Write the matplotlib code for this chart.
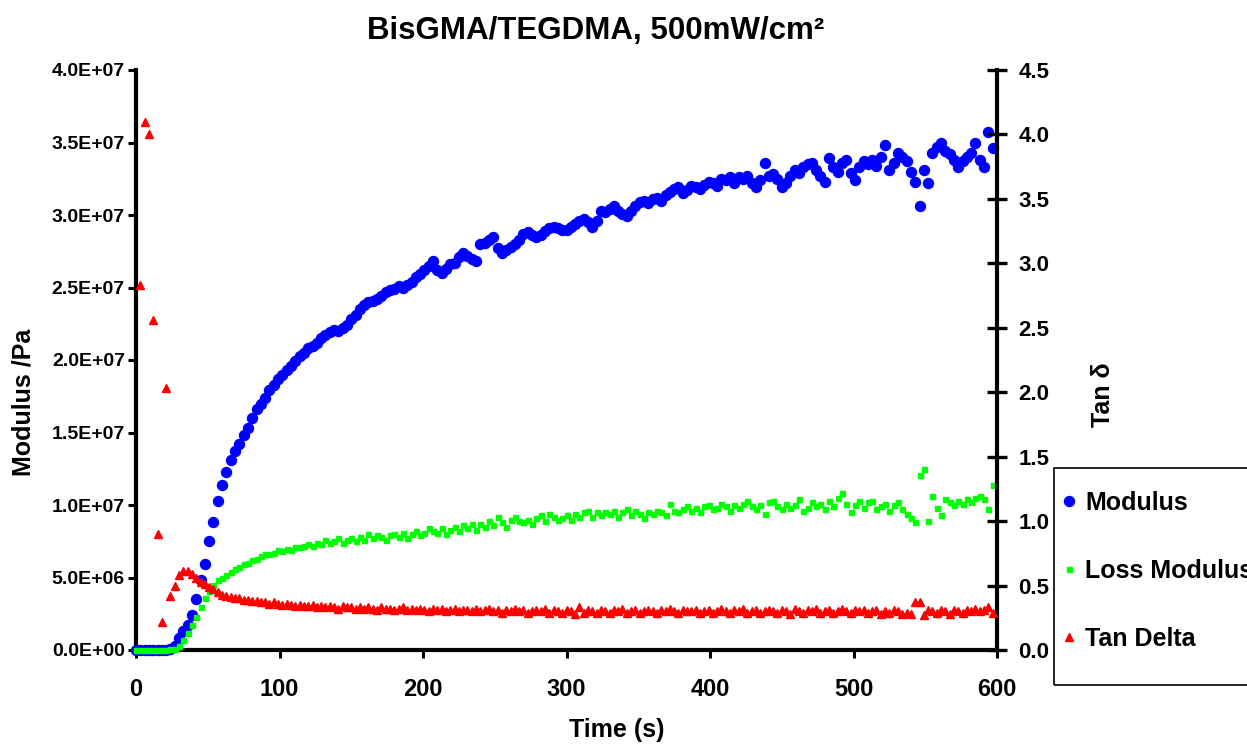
import numpy as np
import matplotlib
matplotlib.use("Agg")
import matplotlib.pyplot as plt
from matplotlib.patches import Rectangle
from matplotlib.lines import Line2D

plt.rcParams['font.family'] = ['Liberation Sans', 'DejaVu Sans']
plt.rcParams['font.weight'] = 'bold'

# ---------------- data ----------------
time_s = np.arange(0, 600, 3)

modulus_e7 = [
    0.00, 0.00, 0.00, 0.00, 0.00, 0.00, 0.00, 0.00, 0.01, 0.03,
    0.08, 0.13, 0.17, 0.24, 0.35, 0.48, 0.59, 0.75, 0.88, 1.03,
    1.14, 1.23, 1.31, 1.37, 1.42, 1.48, 1.53, 1.60, 1.66, 1.70,
    1.74, 1.79, 1.83, 1.87, 1.90, 1.93, 1.96, 1.99, 2.03, 2.05,
    2.08, 2.10, 2.12, 2.15, 2.17, 2.19, 2.21, 2.20, 2.22, 2.24,
    2.28, 2.31, 2.35, 2.38, 2.40, 2.41, 2.42, 2.44, 2.47, 2.48,
    2.49, 2.51, 2.50, 2.52, 2.54, 2.57, 2.59, 2.62, 2.65, 2.68,
    2.62, 2.60, 2.63, 2.66, 2.67, 2.71, 2.74, 2.72, 2.70, 2.68,
    2.80, 2.81, 2.83, 2.85, 2.77, 2.74, 2.76, 2.78, 2.80, 2.83,
    2.87, 2.88, 2.86, 2.85, 2.86, 2.89, 2.91, 2.92, 2.91, 2.90,
    2.90, 2.92, 2.94, 2.96, 2.97, 2.95, 2.92, 2.96, 3.03, 3.02,
    3.04, 3.06, 3.03, 3.01, 2.99, 3.03, 3.06, 3.09, 3.10, 3.08,
    3.11, 3.12, 3.10, 3.14, 3.16, 3.18, 3.19, 3.15, 3.17, 3.20,
    3.19, 3.18, 3.21, 3.23, 3.22, 3.20, 3.25, 3.24, 3.26, 3.22,
    3.26, 3.25, 3.27, 3.22, 3.19, 3.24, 3.36, 3.27, 3.28, 3.25,
    3.19, 3.22, 3.27, 3.31, 3.29, 3.33, 3.35, 3.36, 3.31, 3.27,
    3.23, 3.39, 3.33, 3.30, 3.36, 3.38, 3.29, 3.24, 3.33, 3.37,
    3.35, 3.38, 3.34, 3.40, 3.48, 3.31, 3.36, 3.43, 3.40, 3.37,
    3.30, 3.23, 3.06, 3.31, 3.22, 3.43, 3.47, 3.50, 3.44, 3.42,
    3.38, 3.33, 3.37, 3.40, 3.43, 3.50, 3.38, 3.33, 3.57, 3.46,
]

loss_modulus_e7 = [
    0.00, 0.00, 0.00, 0.00, 0.00, 0.00, 0.00, 0.00, 0.005, 0.01,
    0.03, 0.07, 0.12, 0.17, 0.23, 0.30, 0.36, 0.41, 0.45, 0.48,
    0.50, 0.52, 0.54, 0.56, 0.57, 0.59, 0.60, 0.62, 0.63, 0.65,
    0.66, 0.66, 0.67, 0.69, 0.68, 0.70, 0.69, 0.71, 0.71, 0.72,
    0.73, 0.72, 0.74, 0.73, 0.76, 0.74, 0.75, 0.77, 0.74, 0.76,
    0.77, 0.75, 0.78, 0.76, 0.80, 0.77, 0.79, 0.78, 0.76, 0.79,
    0.80, 0.78, 0.81, 0.77, 0.80, 0.82, 0.79, 0.81, 0.84, 0.82,
    0.81, 0.84, 0.80, 0.83, 0.85, 0.82, 0.86, 0.84, 0.87, 0.83,
    0.87, 0.85, 0.89, 0.86, 0.92, 0.88, 0.85, 0.90, 0.92, 0.89,
    0.88, 0.90, 0.87, 0.91, 0.93, 0.89, 0.94, 0.92, 0.90, 0.91,
    0.93, 0.90, 0.94, 0.92, 0.95, 0.96, 0.92, 0.95, 0.93, 0.95,
    0.94, 0.96, 0.92, 0.95, 0.97, 0.93, 0.96, 0.94, 0.91, 0.95,
    0.94, 0.96, 0.95, 0.93, 1.01, 0.96, 0.95, 0.97, 0.99, 0.96,
    0.98, 0.95, 0.99, 1.00, 0.97, 0.98, 1.01, 0.99, 0.96, 1.00,
    0.98, 1.01, 1.03, 0.99, 0.97, 1.00, 0.94, 1.02, 1.03, 0.99,
    0.97, 1.01, 0.98, 1.00, 1.04, 0.96, 0.98, 1.02, 0.99, 1.01,
    0.97, 1.03, 0.99, 1.05, 1.08, 1.01, 0.95, 1.00, 1.03, 0.98,
    1.02, 1.03, 0.97, 0.99, 1.01, 0.96, 1.00, 1.02, 0.97, 0.94,
    0.91, 0.88, 1.21, 1.25, 0.89, 1.06, 0.98, 0.93, 1.04, 1.02,
    1.00, 1.03, 1.01, 1.04, 1.02, 1.05, 1.06, 1.04, 0.97, 1.14,
]

tan_delta = [
    np.nan, 2.83, 4.10, 4.00, 2.56, 0.90, 0.22, 2.03, 0.42, 0.50,
    0.58, 0.61, 0.61, 0.59, 0.56, 0.53, 0.51, 0.49, 0.47, 0.45,
    0.43, 0.42, 0.41, 0.40, 0.40, 0.39, 0.39, 0.38, 0.38, 0.37,
    0.37, 0.36, 0.37, 0.36, 0.35, 0.36, 0.35, 0.34, 0.35, 0.34,
    0.34, 0.35, 0.33, 0.34, 0.33, 0.34, 0.33, 0.32, 0.34, 0.33,
    0.33, 0.32, 0.33, 0.32, 0.33, 0.32, 0.31, 0.33, 0.32, 0.32,
    0.31, 0.32, 0.33, 0.31, 0.32, 0.31, 0.32, 0.31, 0.30, 0.32,
    0.31, 0.32, 0.30, 0.31, 0.32, 0.30, 0.31, 0.31, 0.30, 0.32,
    0.30, 0.31, 0.32, 0.30, 0.31, 0.29, 0.31, 0.30, 0.32, 0.30,
    0.31, 0.29, 0.30, 0.31, 0.30, 0.32, 0.29, 0.31, 0.30, 0.29,
    0.31, 0.30, 0.28, 0.33, 0.29, 0.31, 0.30, 0.29, 0.31, 0.30,
    0.29, 0.31, 0.30, 0.32, 0.29, 0.30, 0.31, 0.29, 0.30, 0.31,
    0.30, 0.29, 0.31, 0.30, 0.32, 0.30, 0.29, 0.31, 0.30, 0.30,
    0.31, 0.29, 0.30, 0.31, 0.29, 0.30, 0.32, 0.30, 0.29, 0.31,
    0.30, 0.32, 0.29, 0.30, 0.31, 0.29, 0.30, 0.31, 0.30, 0.29,
    0.31, 0.30, 0.28, 0.32, 0.30, 0.29, 0.31, 0.30, 0.32, 0.29,
    0.30, 0.31, 0.29, 0.30, 0.32, 0.30, 0.29, 0.31, 0.30, 0.31,
    0.29, 0.30, 0.31, 0.28, 0.30, 0.29, 0.31, 0.30, 0.28, 0.29,
    0.28, 0.37, 0.37, 0.27, 0.31, 0.30, 0.29, 0.31, 0.30, 0.28,
    0.31, 0.30, 0.29, 0.31, 0.30, 0.32, 0.30, 0.31, 0.33, 0.29,
]

x_ticks = [0, 100, 200, 300, 400, 500, 600]
left_ticks = [0, 5e6, 1e7, 1.5e7, 2e7, 2.5e7, 3e7, 3.5e7, 4e7]
right_ticks = [0, 0.5, 1.0, 1.5, 2.0, 2.5, 3.0, 3.5, 4.0, 4.5]
series_names = ["Modulus", "Loss Modulus", "Tan Delta"]

# ---------------- figure ----------------
W, H = 1247, 745
fig = plt.figure(figsize=(W / 100, H / 100), dpi=100)
L, R, T, B = 136, 997, 70, 650
ax = fig.add_axes([L / W, (H - B) / H, (R - L) / W, (B - T) / H])
ax.patch.set_visible(False)

BLUE, GREEN, RED = '#0000FF', '#00FF00', '#FF0000'

mod = np.array(modulus_e7) * 1e7
loss = np.array(loss_modulus_e7) * 1e7
ax.plot(time_s, mod, ls='none', marker='o', ms=7.2, color=BLUE, mec=BLUE,
        clip_on=False, zorder=3)
ax.plot(time_s, loss, ls='none', marker='s', ms=3.6, color=GREEN, mec=GREEN,
        clip_on=False, zorder=4)

ax2 = ax.twinx()
ax2.plot(time_s, tan_delta, ls='none', marker='^', ms=6, color=RED, mec=RED,
         clip_on=False, zorder=5)

ax.set_xlim(0, 600)
ax.set_ylim(0, 4e7)
ax2.set_ylim(0, 4.5)

ax.set_xticks(x_ticks)
ax.set_xticklabels([str(v) for v in x_ticks])
ax.set_yticks(left_ticks)
ax.set_yticklabels([f"{v:.1E}" for v in left_ticks])
ax2.set_yticks(right_ticks)
ax2.set_yticklabels([f"{v:.1f}" for v in right_ticks])

for a in (ax, ax2):
    a.spines['top'].set_visible(False)
ax.spines['right'].set_visible(False)
ax2.spines['left'].set_visible(False)
ax2.spines['bottom'].set_visible(False)
for s in ('left', 'bottom'):
    ax.spines[s].set_linewidth(3)
ax2.spines['right'].set_linewidth(3)

ax.tick_params(axis='y', direction='out', length=6, width=2.2, pad=2,
               labelsize=14)
ax.tick_params(axis='x', direction='out', length=6, width=2.2, pad=14,
               labelsize=17)
ax2.tick_params(axis='y', direction='inout', length=15, width=2.4, pad=8,
                labelsize=16)
for lab in ax.get_xticklabels() + ax.get_yticklabels() + ax2.get_yticklabels():
    lab.set_fontweight('bold')

# ---------------- text ----------------
fig.text(596 / W, 1 - 31 / H, "BisGMA/TEGDMA, 500mW/cm\u00b2", ha='center',
         va='center', fontsize=22.5, fontweight='bold')
fig.text(24 / W, 1 - 402 / H, "Modulus /Pa", rotation=90, ha='center',
         va='center', fontsize=18, fontweight='bold')
fig.text(617 / W, 1 - 730 / H, "Time (s)", ha='center', va='center',
         fontsize=18, fontweight='bold')
fig.text(1103 / W, 1 - 395 / H, "Tan \u03b4", rotation=90, ha='center',
         va='center', fontsize=18, fontweight='bold')

# ---------------- legend ----------------
handles = [
    Line2D([], [], ls='none', marker='o', ms=7.2, color=BLUE, mec=BLUE),
    Line2D([], [], ls='none', marker='s', ms=3.6, color=GREEN, mec=GREEN),
    Line2D([], [], ls='none', marker='^', ms=6, color=RED, mec=RED),
]
fig.legend(handles, series_names, loc='upper left',
           bbox_to_anchor=(1061 / W, 1 - 491 / H), frameon=False,
           borderpad=0, borderaxespad=0, handlelength=0.6,
           handletextpad=0.36, labelspacing=1.75,
           prop=dict(size=18, weight='bold'))
fig.add_artist(Rectangle((1054 / W, 1 - 685 / H), 300 / W, 217 / H,
                         transform=fig.transFigure, fill=False,
                         ec='black', lw=1.2))

fig.savefig("out.png", dpi=100)
